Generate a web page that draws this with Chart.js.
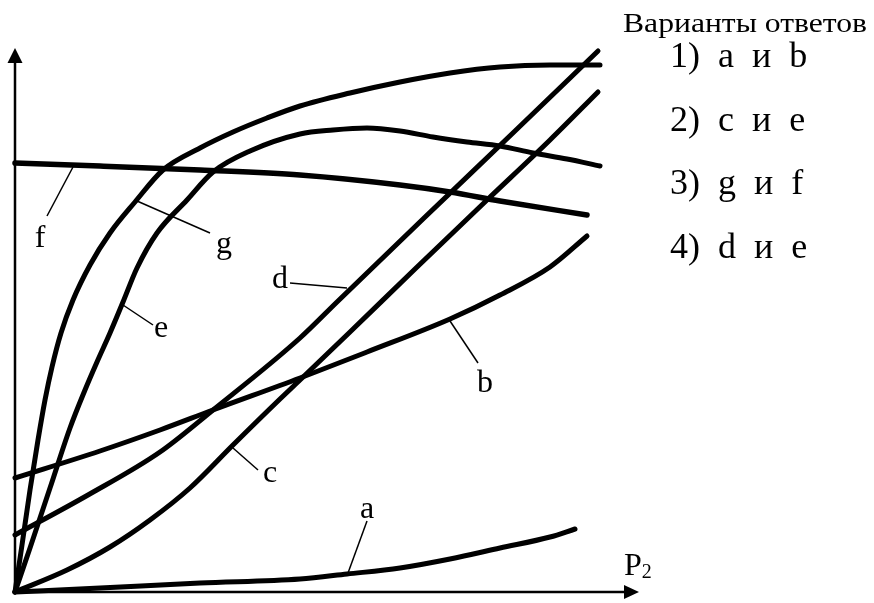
<!DOCTYPE html>
<html>
<head>
<meta charset="utf-8">
<script src="https://cdn.jsdelivr.net/npm/chart.js@4/dist/chart.umd.min.js"></script>
<style>
body{margin:0;background:#fff}
#chart{display:block}
</style>
</head>
<body>
<canvas id="chart" width="874" height="603"></canvas>
<script>
// кривые (ось x - P2, единицы произвольные)
var curveNames = ["a","b","c","d","e","f","g"]

var aX = [0,85,185,285,332,385,435,485,535,560]
var aY = [0,4,9,13,18,24,33,44,55,63]

var bX = [0,85,145,198,285,352,435,485,535,572]
var bY = [114,141,162,182,214,240,273,297,325,356]

var cX = [0,52,95,135,175,218,265,285,335,400,472,535,583]
var cY = [0,22,45,72,104,147,193,212,260,323,392,452,500]

var dX = [0,73,145,198,285,322,408,500,583]
var dY = [57,97,140,182,254,290,373,461,541]

var eX = [0,15,35,55,70,82,95,108,122,142,172,198,235,285,318,352,385,418,452,485,518,552,585]
var eY = [0,44,104,164,202,230,259,290,324,359,392,420,441,458,462,464,461,455,450,446,439,433,426]

var fX = [0,85,185,285,385,435,485,572]
var fY = [429,426,422,417,407,400,391,377]

var gX = [0,7,15,23,30,37,46,58,75,95,120,148,185,218,252,285,335,385,435,485,535,585]
var gY = [0,47,102,152,192,225,259,292,327,359,390,422,444,460,474,486,499,510,519,525,527,527]

// подписи кривых: положение текста и выноски
var labelX = [352,470,255,265,146,25,209]
var labelY = [74,200,110,304,255,345,339]
var leaderFrom = [[352,71],[463,229],[243,122],[275,309],[138,267],[32,376],[195,359]]
var leaderTo = [[333,19],[435,271],[218,144],[332,304],[108,287],[58,425],[122,391]]

var axisTitle = "P"
var axisSub = "2"
var answersTitle = "Варианты ответов"
var answers = ["1)  a  и  b","2)  c  и  e","3)  g  и  f","4)  d  и  e"]

function pts(xs,ys){
    var out = []
    for(var i=0;i<=xs.length-1;i++){
        out.push({x:xs[i],y:ys[i]})
    }
    return out
}

var allX = [aX,bX,cX,dX,eX,fX,gX]
var allY = [aY,bY,cY,dY,eY,fY,gY]
var datasets = []
for(var i=0;i<=curveNames.length-1;i++){
    datasets.push({
        label: curveNames[i],
        data: pts(allX[i],allY[i]),
        borderColor: "#000",
        borderWidth: curveNames[i]=="f" ? 5.5 : 5,
        borderCapStyle: "round",
        cubicInterpolationMode: "monotone",
        pointRadius: 0,
        fill: false,
        clip: false
    })
}

//рисует оси, подписи и текст справа
var extras = {
    id: "extras",
    afterDraw: function(chart){
        var c = chart.ctx
        var xs = chart.scales.x
        var ys = chart.scales.y
        var x0 = xs.getPixelForValue(0)
        var y0 = ys.getPixelForValue(0)
        var xEnd = xs.getPixelForValue(xs.max)
        var yEnd = ys.getPixelForValue(ys.max)
        c.save()
        c.strokeStyle = "#000"
        c.fillStyle = "#000"
        c.lineWidth = 2.5
        c.beginPath()
        c.moveTo(x0, y0)
        c.lineTo(x0, yEnd + 10)
        c.moveTo(x0, y0)
        c.lineTo(xEnd - 10, y0)
        c.stroke()
        // стрелки
        c.beginPath()
        c.moveTo(x0, yEnd)
        c.lineTo(x0 - 7.5, yEnd + 15)
        c.lineTo(x0 + 7.5, yEnd + 15)
        c.closePath()
        c.fill()
        c.beginPath()
        c.moveTo(xEnd, y0)
        c.lineTo(xEnd - 15, y0 - 7)
        c.lineTo(xEnd - 15, y0 + 7)
        c.closePath()
        c.fill()

        // выноски
        c.lineWidth = 1.5
        for(var i=0;i<=curveNames.length-1;i++){
            c.beginPath()
            c.moveTo(xs.getPixelForValue(leaderFrom[i][0]), ys.getPixelForValue(leaderFrom[i][1]))
            c.lineTo(xs.getPixelForValue(leaderTo[i][0]), ys.getPixelForValue(leaderTo[i][1]))
            c.stroke()
        }
        c.font = "32px 'Liberation Serif'"
        c.textAlign = "center"
        c.textBaseline = "alphabetic"
        for(var i=0;i<=curveNames.length-1;i++){
            c.fillText(curveNames[i], xs.getPixelForValue(labelX[i]), ys.getPixelForValue(labelY[i]))
        }

        // P2
        c.textAlign = "left"
        c.font = "32px 'Liberation Serif'"
        c.fillText(axisTitle, xEnd - 15, y0 - 17)
        var w = c.measureText(axisTitle).width
        c.font = "20px 'Liberation Serif'"
        c.fillText(axisSub, xEnd - 15 + w, y0 - 14)

        // варианты ответов, заголовок чуть растянут по ширине
        c.font = "28px 'Liberation Serif'"
        var tw = c.measureText(answersTitle).width
        c.save()
        c.translate(623, 32)
        c.scale(244 / tw, 1)
        c.fillText(answersTitle, 0, 0)
        c.restore()
        c.font = "36px 'Liberation Serif'"
        for(var i=0;i<=answers.length-1;i++){
            c.fillText(answers[i], 670, 67 + i*63.7)
        }
        c.restore()
    }
}

var chart = new Chart(document.getElementById("chart"), {
    type: "line",
    data: { datasets: datasets },
    options: {
        responsive: false,
        animation: false,
        layout: { padding: { left: 15, top: 48, right: 235, bottom: 11 } },
        scales: {
            x: { type: "linear", display: false, min: 0, max: 624 },
            y: { type: "linear", display: false, min: 0, max: 544 }
        },
        plugins: {
            legend: { display: false },
            tooltip: { enabled: false }
        }
    },
    plugins: [extras]
})
</script>
</body>
</html>
